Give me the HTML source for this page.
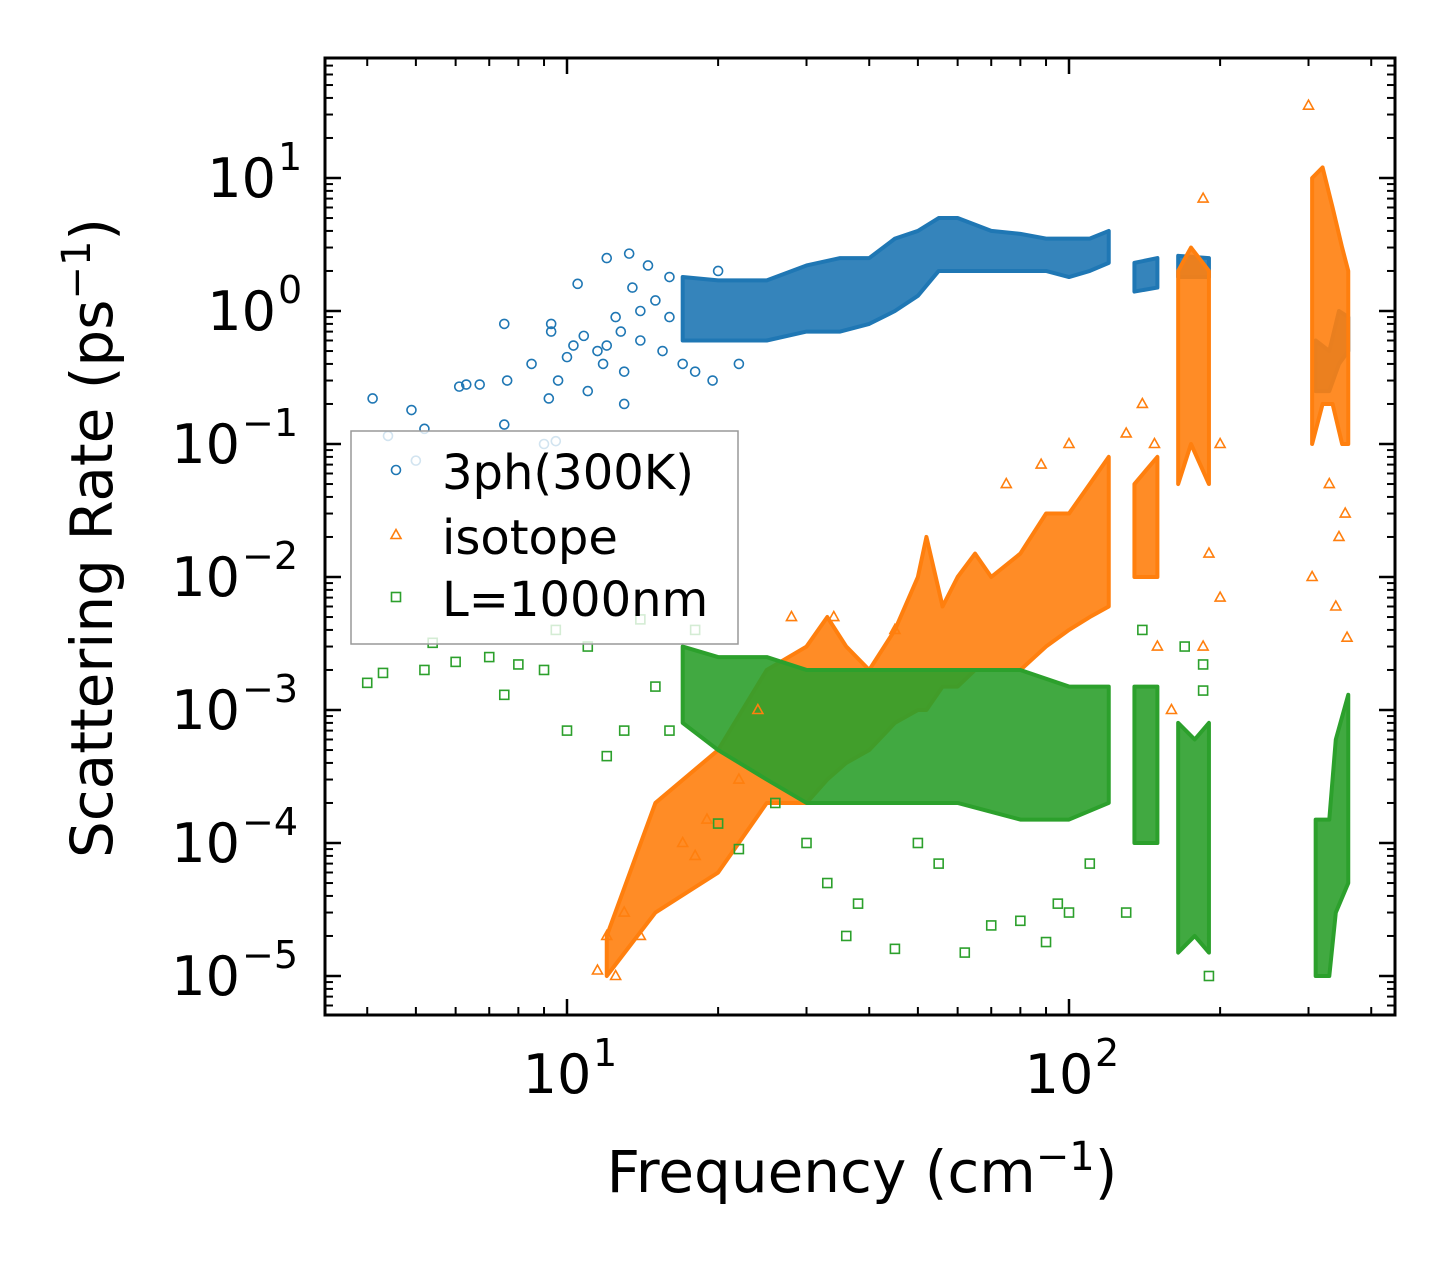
<!DOCTYPE html>
<html><head><meta charset="utf-8"><style>
html,body{margin:0;padding:0;background:#fff;}
svg text{font-family:"DejaVu Sans","Liberation Sans",sans-serif;fill:#000;}
</style></head><body>
<svg id="chart" width="1455" height="1265" viewBox="0 0 1455 1265" xmlns="http://www.w3.org/2000/svg">
<rect width="1455" height="1265" fill="#fff"/>
<defs><clipPath id="clip"><rect x="325" y="58" width="1070" height="957"/></clipPath></defs>
<g id="bands" clip-path="url(#clip)"></g>
<g id="points" clip-path="url(#clip)"></g>
<g id="axes"></g>
</svg>
<script>
// ---- data ----
const threePhBand = [[17,0.6,1.8],[20,0.6,1.7],[25,0.6,1.7],[30,0.7,2.2],[35,0.7,2.5],[40,0.8,2.5],[45,1.0,3.5],[50,1.3,4],[55,2,5],[60,2,5],[70,2,4],[80,2,3.8],[90,2,3.5],[100,1.8,3.5],[110,2,3.5],[120,2.3,4]];
const threePhBand2 = [[135,1.4,2.3],[150,1.5,2.5]];
const threePhBand3 = [[165,1.8,2.6],[190,1.8,2.5]];
const threePhBand4 = [[310,0.25,0.6],[330,0.25,0.5],[345,0.4,1],[360,0.5,0.9]];
const isoBand = [[12,1e-5,2e-5],[15,3e-5,2e-4],[20,6e-5,5e-4],[25,2e-4,2e-3],[30,2e-4,3e-3],[33,3e-4,5e-3],[36,4e-4,3e-3],[40,5e-4,2e-3],[45,8e-4,4e-3],[50,1e-3,1e-2],[52,1e-3,2e-2],[56,1.5e-3,6e-3],[60,1.5e-3,1e-2],[65,2e-3,1.5e-2],[70,2e-3,1e-2],[80,2e-3,1.5e-2],[90,3e-3,3e-2],[100,4e-3,3e-2],[110,5e-3,5e-2],[120,6e-3,8e-2]];
const isoBand2 = [[135,1e-2,5e-2],[150,1e-2,8e-2]];
const isoBand3 = [[165,5e-2,2],[175,0.1,3],[190,0.05,2]];
const isoBand4 = [[305,0.1,10],[320,0.2,12],[335,0.2,6],[350,0.1,3],[360,0.1,2]];
const lBand = [[17,8e-4,3e-3],[20,5e-4,2.5e-3],[25,3e-4,2.5e-3],[30,2e-4,2e-3],[40,2e-4,2e-3],[60,2e-4,2e-3],[80,1.5e-4,2e-3],[100,1.5e-4,1.5e-3],[120,2e-4,1.5e-3]];
const lBand2 = [[135,1e-4,1.5e-3],[150,1e-4,1.5e-3]];
const lBand3 = [[165,1.5e-5,8e-4],[178,2e-5,6e-4],[190,1.5e-5,8e-4]];
const lBand4 = [[310,1e-5,1.5e-4],[330,1e-5,1.5e-4],[340,3e-5,6e-4],[360,5e-5,1.3e-3]];
const threePhX = [4.1,4.4,4.9,5.0,5.2,6.1,6.3,6.7,7.5,7.5,7.6,8.5,9.0,9.2,9.3,9.3,9.5,9.6,10,10.3,10.5,10.8,11,11.5,12,12,12.5,13,13.3,13.5,14,14.5,15,15.5,16,17,13,11.8,12.8,14,16,18,19.5,20,22];
const threePhY = [0.22,0.115,0.18,0.075,0.13,0.27,0.28,0.28,0.8,0.14,0.3,0.4,0.1,0.22,0.7,0.8,0.105,0.3,0.45,0.55,1.6,0.65,0.25,0.5,0.55,2.5,0.9,0.2,2.7,1.5,0.6,2.2,1.2,0.5,1.8,0.4,0.35,0.4,0.7,1.0,0.9,0.35,0.3,2,0.4];
const isoX = [11.5,12,12.5,13,14,17,18,19,22,24,28,34,45,75,88,100,130,140,148,150,160,185,190,200,200,300,305,330,345,355,358,340,185];
const isoY = [1.1e-5,2e-5,1e-5,3e-5,2e-5,1e-4,8e-5,1.5e-4,3e-4,1e-3,5e-3,5e-3,4e-3,5e-2,7e-2,1e-1,1.2e-1,2e-1,1e-1,3e-3,1e-3,7,1.5e-2,1e-1,7e-3,35,1e-2,0.05,0.02,0.03,3.5e-3,6e-3,3e-3];
const lX = [4,4.3,5.2,5.4,6,7,7.5,8,9,9.5,10,11,12,13,14,15,16,18,20,22,26,30,33,36,38,45,50,55,62,70,80,90,95,100,110,130,140,170,185,190,185];
const lY = [1.6e-3,1.9e-3,2e-3,3.2e-3,2.3e-3,2.5e-3,1.3e-3,2.2e-3,2e-3,4e-3,7e-4,3e-3,4.5e-4,7e-4,4.8e-3,1.5e-3,7e-4,4e-3,1.4e-4,9e-5,2e-4,1e-4,5e-5,2e-5,3.5e-5,1.6e-5,1e-4,7e-5,1.5e-5,2.4e-5,2.6e-5,1.8e-5,3.5e-5,3e-5,7e-5,3e-5,4e-3,3e-3,2.2e-3,1e-5,1.4e-3];
const xTickLabels = ["1","2"];
const yTickExps = ["1","0","−1","−2","−3","−4","−5"];

// ---- axes ----
const NS="http://www.w3.org/2000/svg";
const X0=325,X1=1395,Y0=58,Y1=1015;
const xs = v => 567 + (Math.log10(v)-1)*502;
const ys = v => 178 - (Math.log10(v)-1)*133;
const C={b:"#1f77b4",o:"#ff7f0e",g:"#2ca02c"};
function mk(tag,attrs,parent){const e=document.createElementNS(NS,tag);for(const k in attrs)e.setAttribute(k,attrs[k]);parent.appendChild(e);return e;}
const bandsG=document.getElementById('bands'), ptsG=document.getElementById('points'), axG=document.getElementById('axes');
function band(arr,col,name){
  const top=arr.map(d=>xs(d[0])+','+ys(d[2]));
  const bot=arr.slice().reverse().map(d=>xs(d[0])+','+ys(d[1]));
  const p=mk('polygon',{points:top.concat(bot).join(' '),fill:col,'fill-opacity':0.9,stroke:col,'stroke-width':4,'stroke-linejoin':'round'},bandsG);
  
  
}
function marker(type,x,y,col,g,name){
  let e;
  if(type==='c') e=mk('circle',{cx:x,cy:y,r:4.5,fill:'none',stroke:col,'stroke-width':1.6},g);
  else if(type==='t') e=mk('polygon',{points:`${x},${y-5.5} ${x-5},${y+3.5} ${x+5},${y+3.5}`,fill:'none',stroke:col,'stroke-width':1.6},g);
  else e=mk('rect',{x:x-4.5,y:y-4.5,width:9,height:9,fill:'none',stroke:col,'stroke-width':1.6},g);
  
  
  return e;
}
[threePhBand,threePhBand2,threePhBand3,threePhBand4].forEach(b=>band(b,C.b,'3ph-band'));
threePhX.forEach((v,i)=>marker('c',xs(v),ys(threePhY[i]),C.b,ptsG,'3ph-point'));
[isoBand,isoBand2,isoBand3,isoBand4].forEach(b=>band(b,C.o,'isotope-band'));
isoX.forEach((v,i)=>marker('t',xs(v),ys(isoY[i]),C.o,ptsG,'isotope-point'));
[lBand,lBand2,lBand3,lBand4].forEach(b=>band(b,C.g,'boundary-band'));
lX.forEach((v,i)=>marker('s',xs(v),ys(lY[i]),C.g,ptsG,'boundary-point'));

const fr=mk('rect',{x:X0,y:Y0,width:X1-X0,height:Y1-Y0,fill:'none',stroke:'#000','stroke-width':3},axG);

for(let e=0;e<=2;e++){for(let m=1;m<=9;m++){const v=m*Math.pow(10,e);const x=xs(v);if(x<X0||x>X1)continue;const L=m===1?16:8;
  mk('line',{x1:x,x2:x,y1:Y1,y2:Y1-L,stroke:'#000','stroke-width':m===1?2.5:2},axG);
  mk('line',{x1:x,x2:x,y1:Y0,y2:Y0+L,stroke:'#000','stroke-width':m===1?2.5:2},axG);}}
xTickLabels.forEach((ex,i)=>{const x=xs(Math.pow(10,i+1));
  const t=mk('text',{x:x-10,y:1093,'font-size':54,'text-anchor':'middle'},axG);
  t.textContent='10';
  
  const s=mk('text',{x:x+26,y:1066,'font-size':38,'text-anchor':'start'},axG);
  s.textContent=ex;
  });
for(let e=-6;e<=1;e++){for(let m=1;m<=9;m++){const v=m*Math.pow(10,e);const y=ys(v);if(y<Y0||y>Y1)continue;const L=m===1?16:8;
  mk('line',{x1:X0,x2:X0+L,y1:y,y2:y,stroke:'#000','stroke-width':m===1?2.5:2},axG);
  mk('line',{x1:X1,x2:X1-L,y1:y,y2:y,stroke:'#000','stroke-width':m===1?2.5:2},axG);}}
yTickExps.forEach((ex,i)=>{const y=ys(Math.pow(10,1-i));
  const wide=ex.length>1;
  const t=mk('text',{x:wide?240:276,y:y+19,'font-size':54,'text-anchor':'end'},axG);
  t.textContent='10';
  
  const s=mk('text',{x:wide?242:278,y:y-8,'font-size':38,'text-anchor':'start'},axG);
  s.textContent=ex;
  });
const xt=mk('text',{x:862,y:1192,'font-size':58,'text-anchor':'middle'},axG);
xt.innerHTML='Frequency (cm<tspan dy="-22" font-size="40">−1</tspan><tspan dy="22">)</tspan>';

const yt=mk('text',{x:0,y:0,'font-size':58,'text-anchor':'middle',transform:'translate(112,538) rotate(-90)'},axG);
yt.innerHTML='Scattering Rate (ps<tspan dy="-22" font-size="40">−1</tspan><tspan dy="22">)</tspan>';

const lg=mk('g',{},axG);
mk('rect',{x:351,y:431,width:387,height:213,fill:'#fff','fill-opacity':0.8,stroke:'#999','stroke-width':1.5},lg);
const entries=[['c',C.b,'3ph(300K)',472],['t',C.o,'isotope',537],['s',C.g,'L=1000nm',599]];
entries.forEach(en=>{marker(en[0],396,en[3]-2,en[1],lg,'legend-marker');
  const t=mk('text',{x:442,y:en[3]+17,'font-size':48},lg);t.textContent=en[2];
  });
</script>
</body></html>
